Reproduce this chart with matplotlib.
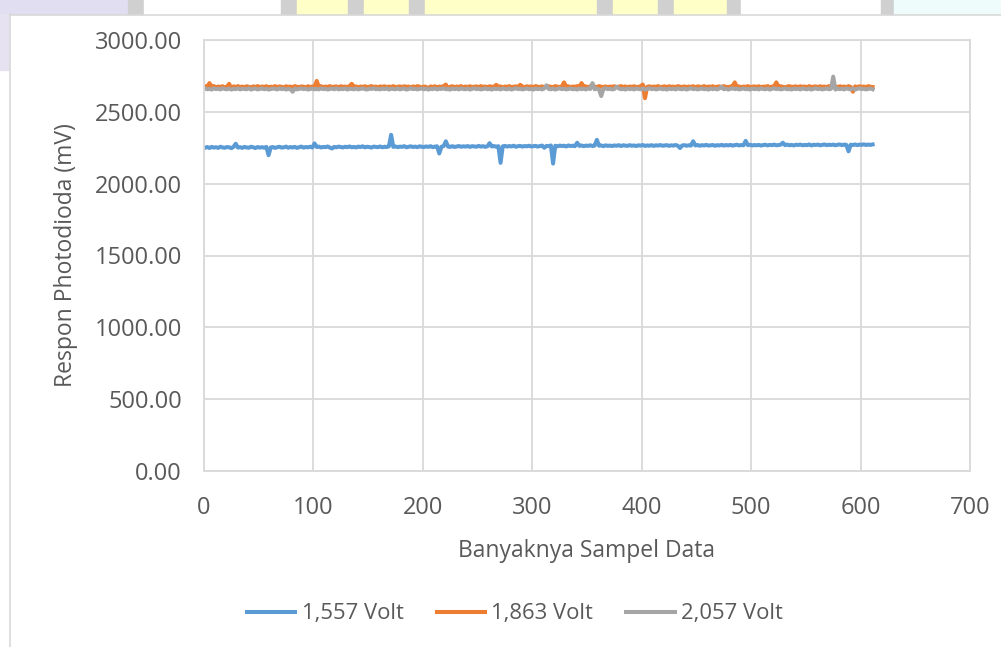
import numpy as np
import matplotlib.pyplot as plt
from matplotlib.patches import Rectangle

# sampel ke-1, 3, 5, ... 611 (tiap 2 sampel)
sampel = np.arange(1, 612, 2)

v1557 = [
    2250, 2255, 2248, 2256, 2251, 2254, 2249, 2257, 2252, 2250, 2255, 2253, 2247, 2256, 2278, 2251, 2254,
    2249, 2256, 2252, 2250, 2257, 2253, 2248, 2255, 2251, 2254, 2250, 2256, 2198, 2252, 2255, 2249, 2254,
    2257, 2251, 2253, 2258, 2250, 2255, 2252, 2256, 2249, 2254, 2258, 2251, 2255, 2253, 2257, 2252, 2280,
    2255, 2258, 2252, 2256, 2254, 2259, 2251, 2245, 2256, 2253, 2258, 2255, 2252, 2257, 2254, 2259, 2253,
    2256, 2252, 2258, 2255, 2260, 2253, 2257, 2255, 2251, 2258, 2256, 2254, 2259, 2253, 2257, 2255, 2260,
    2340, 2256, 2259, 2254, 2258, 2256, 2261, 2253, 2257, 2260, 2255, 2258, 2254, 2260, 2257, 2255, 2259,
    2256, 2261, 2254, 2258, 2260, 2210, 2257, 2262, 2295, 2258, 2256, 2261, 2255, 2259, 2262, 2257, 2260,
    2258, 2262, 2256, 2261, 2259, 2257, 2263, 2258, 2261, 2256, 2260, 2282, 2259, 2262, 2257, 2261, 2145,
    2260, 2263, 2258, 2262, 2259, 2264, 2257, 2261, 2263, 2258, 2262, 2260, 2264, 2259, 2261, 2263, 2258,
    2262, 2265, 2250, 2263, 2261, 2266, 2140, 2264, 2260, 2265, 2262, 2264, 2259, 2266, 2262, 2264, 2261,
    2285, 2263, 2266, 2261, 2265, 2263, 2267, 2262, 2265, 2305, 2264, 2266, 2261, 2267, 2263, 2265, 2262,
    2266, 2264, 2268, 2262, 2267, 2265, 2263, 2268, 2264, 2266, 2262, 2267, 2265, 2269, 2263, 2266, 2264,
    2268, 2263, 2267, 2265, 2269, 2264, 2266, 2268, 2263, 2267, 2265, 2269, 2264, 2248, 2266, 2268, 2264,
    2267, 2265, 2295, 2266, 2269, 2264, 2268, 2266, 2270, 2265, 2267, 2269, 2264, 2268, 2266, 2270, 2265,
    2269, 2266, 2270, 2265, 2268, 2271, 2266, 2269, 2267, 2298, 2268, 2271, 2266, 2269, 2267, 2270, 2265,
    2269, 2271, 2266, 2270, 2268, 2272, 2267, 2269, 2271, 2285, 2268, 2272, 2267, 2270, 2266, 2271, 2269,
    2272, 2267, 2270, 2268, 2273, 2266, 2271, 2269, 2272, 2267, 2270, 2273, 2268, 2271, 2269, 2272, 2267,
    2271, 2273, 2268, 2272, 2270, 2225, 2271, 2269, 2273, 2268, 2272, 2270, 2274, 2269, 2272, 2270, 2273,
]

v1863 = [
    2678, 2672, 2700, 2674, 2679, 2671, 2676, 2673, 2678, 2670, 2675, 2695, 2660, 2677, 2673, 2679, 2672,
    2676, 2671, 2678, 2674, 2670, 2677, 2673, 2679, 2672, 2676, 2674, 2678, 2671, 2675, 2673, 2679, 2672,
    2677, 2674, 2670, 2678, 2673, 2676, 2671, 2679, 2674, 2672, 2677, 2675, 2670, 2678, 2673, 2676, 2672,
    2715, 2674, 2678, 2671, 2676, 2673, 2679, 2672, 2675, 2677, 2671, 2678, 2674, 2676, 2672, 2679, 2695,
    2673, 2677, 2671, 2676, 2674, 2678, 2672, 2675, 2679, 2673, 2676, 2670, 2677, 2674, 2678, 2672, 2676,
    2673, 2679, 2671, 2675, 2677, 2672, 2678, 2674, 2676, 2670, 2677, 2673, 2679, 2675, 2671, 2676, 2674,
    2660, 2677, 2673, 2678, 2671, 2676, 2674, 2679, 2690, 2657, 2675, 2678, 2672, 2676, 2674, 2679, 2671,
    2676, 2673, 2678, 2672, 2675, 2677, 2671, 2679, 2674, 2676, 2672, 2678, 2675, 2673, 2688, 2674, 2677,
    2671, 2676, 2674, 2679, 2672, 2675, 2677, 2673, 2688, 2676, 2671, 2678, 2674, 2677, 2672, 2679, 2675,
    2673, 2677, 2671, 2676, 2678, 2674, 2672, 2679, 2675, 2673, 2677, 2705, 2674, 2678, 2672, 2676, 2674,
    2679, 2672, 2700, 2675, 2677, 2671, 2678, 2674, 2676, 2672, 2679, 2675, 2673, 2677, 2671, 2676, 2674,
    2678, 2672, 2675, 2679, 2673, 2677, 2671, 2676, 2674, 2678, 2672, 2675, 2677, 2690, 2595, 2674, 2678,
    2672, 2676, 2674, 2679, 2671, 2675, 2677, 2673, 2678, 2674, 2676, 2671, 2679, 2675, 2673, 2677, 2672,
    2676, 2674, 2678, 2671, 2677, 2675, 2673, 2679, 2672, 2676, 2674, 2678, 2671, 2675, 2677, 2673, 2679,
    2674, 2672, 2676, 2678, 2705, 2673, 2677, 2671, 2676, 2674, 2679, 2672, 2675, 2677, 2673, 2678, 2671,
    2676, 2674, 2679, 2672, 2675, 2677, 2705, 2673, 2678, 2674, 2671, 2676, 2679, 2673, 2675, 2677, 2672,
    2678, 2674, 2676, 2671, 2679, 2673, 2675, 2677, 2672, 2678, 2674, 2676, 2671, 2679, 2673, 2675, 2677,
    2672, 2678, 2674, 2676, 2671, 2679, 2673, 2640, 2677, 2672, 2678, 2674, 2676, 2671, 2679, 2675, 2673,
]

v2057 = [
    2662, 2657, 2660, 2655, 2663, 2658, 2661, 2656, 2664, 2659, 2657, 2662, 2655, 2660, 2658, 2663, 2656,
    2661, 2659, 2657, 2664, 2655, 2660, 2662, 2656, 2659, 2663, 2657, 2661, 2655, 2658, 2662, 2660, 2656,
    2663, 2658, 2661, 2655, 2659, 2657, 2640, 2662, 2656, 2660, 2663, 2658, 2661, 2655, 2659, 2662, 2657,
    2660, 2656, 2663, 2658, 2661, 2655, 2659, 2662, 2657, 2664, 2656, 2660, 2658, 2663, 2655, 2661, 2659,
    2657, 2662, 2656, 2660, 2663, 2658, 2655, 2661, 2659, 2664, 2657, 2660, 2656, 2662, 2658, 2663, 2655,
    2661, 2659, 2657, 2663, 2656, 2660, 2662, 2655, 2659, 2664, 2658, 2661, 2656, 2660, 2663, 2657, 2662,
    2655, 2660, 2658, 2663, 2656, 2661, 2659, 2664, 2657, 2660, 2655, 2662, 2658, 2661, 2656, 2663, 2659,
    2657, 2662, 2655, 2660, 2664, 2658, 2661, 2656, 2659, 2663, 2657, 2660, 2655, 2662, 2658, 2661, 2656,
    2663, 2659, 2657, 2662, 2655, 2660, 2664, 2658, 2661, 2656, 2659, 2663, 2657, 2660, 2655, 2662, 2658,
    2661, 2656, 2663, 2685, 2659, 2657, 2662, 2655, 2660, 2664, 2658, 2661, 2656, 2659, 2663, 2657, 2660,
    2655, 2662, 2658, 2661, 2656, 2663, 2659, 2700, 2657, 2662, 2655, 2610, 2660, 2664, 2658, 2661, 2656,
    2659, 2675, 2663, 2657, 2660, 2655, 2662, 2658, 2661, 2656, 2663, 2659, 2657, 2662, 2655, 2660, 2664,
    2658, 2661, 2656, 2659, 2663, 2657, 2660, 2655, 2662, 2658, 2661, 2656, 2663, 2659, 2657, 2662, 2655,
    2660, 2664, 2658, 2661, 2656, 2659, 2663, 2657, 2660, 2655, 2662, 2658, 2661, 2656, 2663, 2675, 2657,
    2662, 2655, 2660, 2664, 2658, 2661, 2656, 2659, 2663, 2657, 2660, 2655, 2662, 2658, 2661, 2656, 2663,
    2659, 2657, 2662, 2655, 2660, 2664, 2658, 2661, 2656, 2659, 2663, 2657, 2660, 2655, 2662, 2658, 2661,
    2656, 2663, 2659, 2657, 2662, 2655, 2660, 2664, 2658, 2661, 2656, 2659, 2663, 2657, 2660, 2745, 2655,
    2662, 2658, 2661, 2656, 2663, 2659, 2657, 2662, 2655, 2660, 2664, 2658, 2661, 2656, 2659, 2663, 2657,
]

label_seri = ["1,557 Volt", "1,863 Volt", "2,057 Volt"]
warna = ["#5b9bd5", "#ed7d31", "#a5a5a5"]

plt.rcParams['font.family'] = ['Open Sans', 'DejaVu Sans']
teks = '#595959'
W, H = 1001, 647

fig = plt.figure(figsize=(W / 100, H / 100), dpi=100)

# latar belakang halaman (watermark di atas, bingkai tipis)
pita = [(0, 128, '#e2def2'), (128, 144, '#d0d0d0'), (144, 281, '#ffffff'), (281, 297, '#d0d0d0'),
        (297, 348, '#ffffc8'), (348, 364, '#d0d0d0'), (364, 409, '#ffffc8'), (409, 425, '#d0d0d0'),
        (425, 597, '#ffffc8'), (597, 613, '#d0d0d0'), (613, 658, '#ffffc8'), (658, 674, '#d0d0d0'),
        (674, 727, '#ffffc8'), (727, 741, '#d0d0d0'), (741, 881, '#ffffff'), (881, 894, '#d0d0d0'),
        (894, 1001, '#eefcfc')]
for x0, x1, c in pita:
    fig.patches.append(Rectangle((x0 / W, 1 - 14 / H), (x1 - x0) / W, 14 / H,
                                 transform=fig.transFigure, color=c, zorder=0))
fig.patches.append(Rectangle((0, 1 - 70 / H), 9 / W, 56 / H, transform=fig.transFigure,
                             color='#e6e2f2', zorder=0))
fig.lines.append(plt.Line2D([10 / W, 10 / W], [0, 1 - 14 / H], transform=fig.transFigure,
                            color='#d9d9d9', lw=1.2))
fig.lines.append(plt.Line2D([10 / W, 1], [1 - 15 / H, 1 - 15 / H], transform=fig.transFigure,
                            color='#d9d9d9', lw=1.2))

ax = fig.add_axes([204 / W, 1 - 471 / H, 766 / W, 431 / H])

for y, lab, c in zip([v1557, v1863, v2057], label_seri, warna):
    ax.plot(sampel, y, color=c, lw=2.9, label=lab, solid_joinstyle='round')

ax.set_xlim(0, 700)
ax.set_ylim(0, 3000)
ax.set_xticks(range(0, 701, 100))
ax.set_yticks(range(0, 3001, 500))
ax.set_yticklabels([f"{v:.2f}" for v in range(0, 3001, 500)])
ax.grid(True, color='#d9d9d9', lw=1.3)
ax.set_axisbelow(True)
for s in ax.spines.values():
    s.set_color('#d9d9d9')
    s.set_linewidth(1.3)
ax.tick_params(length=0, labelsize=17, colors=teks)
ax.tick_params(axis='y', pad=16)
ax.tick_params(axis='x', pad=18)

ax.set_xlabel("Banyaknya Sampel Data", fontsize=16.5, color=teks, labelpad=14)
ax.set_ylabel("Respon Photodioda (mV)", fontsize=16.5, color=teks, labelpad=12)

ax.legend(loc='center', bbox_to_anchor=(515 / W, 1 - 614 / H), bbox_transform=fig.transFigure,
          ncol=3, frameon=False, fontsize=15.8, labelcolor=teks, handlelength=2.2,
          handletextpad=0.3, columnspacing=1.5)

fig.savefig("out.png", dpi=100)
